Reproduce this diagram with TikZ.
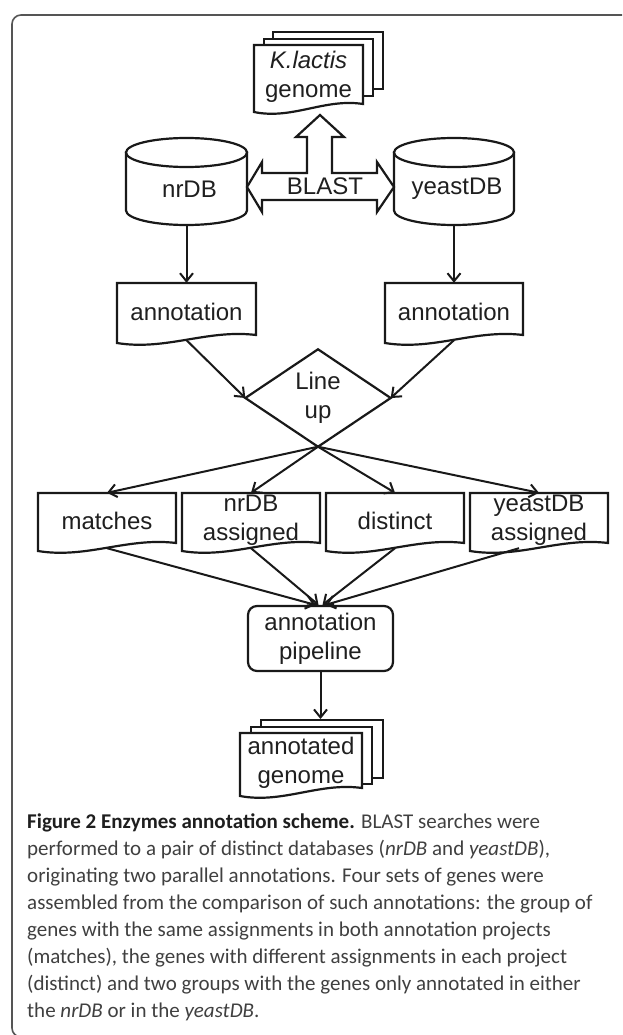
\documentclass[tikz,border=0pt]{standalone}
\usepackage{fontspec}
\setmainfont{Liberation Sans}
\newfontfamily\capfont{Carlito}
\usetikzlibrary{arrows.meta,calc}
\definecolor{captxt}{HTML}{404040}
\definecolor{capbold}{HTML}{1e1e1e}
\definecolor{framec}{HTML}{555555}
\newcommand{\docshape}[4]{%
  \draw[shp] (#1,#2) -- (#3,#2) -- (#3,#4)
    .. controls ({#3-0.35*(#3-#1)},{#4-6}) and ({#1+0.35*(#3-#1)},{#4+16}) .. (#1,{#4+8}) -- cycle;}
\newcommand{\docnode}[6]{%
  \docshape{#2}{#3}{#4}{#5}
  \node[lbl, minimum width={#4-#2}, minimum height={#5+5-#3}] (#1) at ({(#2+#4)/2},{(#3+#5+5)/2}) {#6};}
\newcommand{\cylnode}[6]{%
  \draw[shp] (#2,{#3+14.5}) -- (#2,{#5-14.5}) arc[start angle=180, end angle=0, x radius={(#4-#2)/2}, y radius=14.5] -- (#4,{#3+14.5}) -- cycle;
  \draw[shp] ({(#2+#4)/2},{#3+14.5}) ellipse[x radius={(#4-#2)/2}, y radius=14.5];
  \node[lbl, minimum width={#4-#2}, minimum height={#5-#3}] (#1) at ({(#2+#4)/2},{(#3+#5)/2}) {};
  \node[lbl] (#1t) at ({(#2+#4)/2+3},189) {#6};}
\begin{document}
\begin{tikzpicture}[x=1pt,y=-1pt,
  shp/.style={line width=2.2pt, draw=black!90, fill=white, line join=miter},
  arr/.style={line width=2pt, draw=black!90, -{Straight Barb[length=8pt,width=13pt,line width=2pt]}},
  lbl/.style={font=\fontsize{24}{29}\selectfont, align=center, inner sep=0pt, text=black!88},
  capline/.style={anchor=base west, inner sep=0pt, font=\capfont\fontsize{21}{27}\selectfont, text=captxt},
]
\useasboundingbox (0,0) rectangle (622,1035);
\clip (0,0) rectangle (622,1035);
\fill[white] (0,0) rectangle (622,1035);
% frame
\draw[framec, line width=1.6pt, rounded corners=9pt] (12,15) rectangle (700,1037);

% K.lactis genome stack
\node[shp, anchor=north west, minimum width=110, minimum height=57, inner sep=0] (kb2) at (272,31) {};
\node[shp, anchor=north west, minimum width=109, minimum height=57, inner sep=0] (kb1) at (263,38) {};
\docnode{kl}{254}{45}{363}{104}{\textit{K.lactis}\\genome}

% databases
\cylnode{nrdb}{126}{138}{247}{225}{nrDB}
\cylnode{ydb}{394}{138}{514}{225}{yeastDB}

% BLAST block arrow
\draw[shp] (247,187) -- (262,162) -- (262,173) -- (307,173) -- (307,137) -- (296,137) -- (320,115)
  -- (344,137) -- (332,137) -- (332,173) -- (377,173) -- (377,162) -- (394,187) -- (377,212)
  -- (377,200) -- (262,200) -- (262,212) -- cycle;
\node[lbl] (blast) at (325,186) {BLAST};

% annotations
\docnode{ann1}{117}{283}{256}{335}{annotation}
\docnode{ann2}{385}{283}{523}{335}{annotation}
\draw[arr] (nrdb.south) -- (ann1.north);
\draw[arr] (ydb.south) -- (ann2.north);

% line up
\node[lbl, minimum width=145, minimum height=97] (lineup) at (318,398) {Line\\up};
\draw[shp, fill=none] (lineup.north) -- (lineup.east) -- (lineup.south) -- (lineup.west) -- cycle;
\draw[arr] (ann1.south) -- (lineup.west);
\draw[arr] (ann2.south) -- (lineup.east);

% four sets
\docnode{d1}{38}{493}{176}{543}{matches}
\docnode{d2}{182}{493}{320}{543}{nrDB\\assigned}
\docnode{d3}{326}{493}{464}{543}{distinct}
\docnode{d4}{470}{493}{608}{543}{yeastDB\\assigned}
\draw[arr] (lineup.south) -- (d1.north);
\draw[arr] (lineup.south) -- (d2.north);
\draw[arr] (lineup.south) -- (d3.north);
\draw[arr] (lineup.south) -- (d4.north);

% pipeline
\node[lbl, shp, rounded corners=9pt, minimum width=145, minimum height=65] (pipe) at (320.5,638.5) {annotation\\pipeline};
\draw[arr] (d1.south) -- ([xshift=-5pt]pipe.north);
\draw[arr] (d2.south) -- ([xshift=-2pt]pipe.north);
\draw[arr] (d3.south) -- ([xshift=2pt]pipe.north);
\draw[arr] ([xshift=-20pt]d4.south) -- ([xshift=5pt]pipe.north);

% annotated genome stack
\node[shp, anchor=north west, minimum width=122, minimum height=58, inner sep=0] (gb2) at (260,719) {};
\node[shp, anchor=north west, minimum width=121, minimum height=57, inner sep=0] (gb1) at (250,726) {};
\docnode{gen}{240}{733}{362}{788}{annotated\\genome}
\draw[arr] (pipe.south) -- (pipe.south |- gb2.north);

% caption
\node[capline] (c1) at (27,828.5) {{\bfseries\color{capbold}Figure 2 Enzymes annotation scheme.} BLAST searches were};
\node[capline] (c2) at (27,855.5) {performed to a pair of distinct databases (\textit{nrDB} and \textit{yeastDB}),};
\node[capline] (c3) at (27,882.5) {originating two parallel annotations. Four sets of genes were};
\node[capline] (c4) at (27,909.5) {assembled from the comparison of such annotations: the group of};
\node[capline] (c5) at (27,936.5) {genes with the same assignments in both annotation projects};
\node[capline] (c6) at (27,963.5) {(matches), the genes with different assignments in each project};
\node[capline] (c7) at (27,990.5) {(distinct) and two groups with the genes only annotated in either};
\node[capline] (c8) at (27,1017.5) {the \textit{nrDB} or in the \textit{yeastDB}.};
\end{tikzpicture}
\end{document}
